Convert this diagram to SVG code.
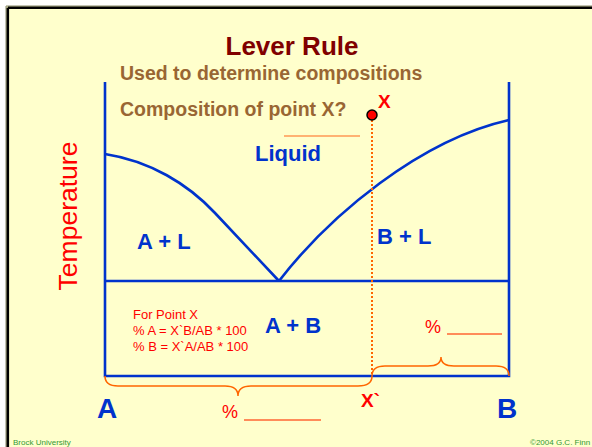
<svg xmlns="http://www.w3.org/2000/svg" width="592" height="447" viewBox="0 0 592 447">
<style>
  text { font-family: "Liberation Sans", Arial, sans-serif; }
  .blue { fill: #0033CC; font-weight: bold; }
  .brown { fill: #996633; font-weight: bold; font-size: 19.5px; }
  .red { fill: #FF0000; }
  .green { fill: #339933; font-size: 8px; }
  .line { stroke: #0033CC; stroke-width: 2.6; fill: none; }
  .brace { stroke: #FF6600; stroke-width: 1.5; fill: none; }
  .under { stroke: #FF6633; stroke-width: 1.5; }
</style>
<rect x="0" y="0" width="592" height="447" fill="#FFFFFF"/>
<rect x="6" y="6" width="600" height="460" fill="#FFFFCC"/>
<path d="M6,6 H592 M6,6 V447" stroke="#888866" stroke-width="1" fill="none"/>
<path d="M7.8,7.8 H592 M7.8,7.8 V447" stroke="#000000" stroke-width="2.6" fill="none"/>

<g id="title">
  <text x="292" y="55" text-anchor="middle" font-size="26" font-weight="bold" fill="#800000">Lever Rule</text>
  <text x="120" y="80" class="brown">Used to determine compositions</text>
  <text x="120" y="116" class="brown">Composition of point X?</text>
</g>

<g id="connectors">
  <path id="axes" class="line" d="M105,82 V376 H509 V82"/>
  <path id="eutectic" class="line" d="M105,281 H509"/>
  <path id="liquidus-left" class="line" d="M105,154 C150,161 188,184 215,213 L279,281"/>
  <path id="liquidus-right" class="line" d="M279,281 C330,215 420,140 509,120"/>
  <path id="tie" d="M372,120 V376" stroke="#FF6600" stroke-width="2" stroke-dasharray="2,2" fill="none"/>
  <path id="brace-left" class="brace" d="M105,376 Q105,386 118,386 L225,386 Q238,386 238,396 Q238,386 251,386 L358,386 Q372,386 372,376"/>
  <path id="brace-right" class="brace" d="M372,376 Q372,366 385,366 L428,366 Q441,366 441,357 Q441,366 454,366 L496,366 Q509,366 509,376"/>
  <line x1="284" y1="136" x2="360" y2="136" stroke="#FF9955" stroke-width="1.5"/>
  <line x1="244" y1="420" x2="321" y2="420" class="under"/>
  <line x1="447" y1="334" x2="502" y2="334" class="under"/>
</g>

<g id="pointX">
  <circle cx="372" cy="115" r="5" fill="#FF0000" stroke="#000000" stroke-width="1.5"/>
  <text x="378" y="108" class="red" font-size="19" font-weight="bold">X</text>
</g>

<g id="labels">
  <text x="255" y="161" class="blue" font-size="22">Liquid</text>
  <text x="137" y="249" class="blue" font-size="22">A + L</text>
  <text x="377" y="244" class="blue" font-size="22">B + L</text>
  <text x="265" y="333" class="blue" font-size="22">A + B</text>
  <text x="97" y="418" class="blue" font-size="28">A</text>
  <text x="497" y="418" class="blue" font-size="28">B</text>
  <text x="361" y="407" class="red" font-size="19" font-weight="bold">X`</text>
  <text x="222" y="418" class="red" font-size="18">%</text>
  <text x="425" y="333" class="red" font-size="18">%</text>
  <text transform="translate(77,216) rotate(-90)" text-anchor="middle" class="red" font-size="26.5">Temperature</text>
</g>

<g id="formula" class="red" font-size="13">
  <text x="133" y="319" class="red">For Point X</text>
  <text x="133" y="335" class="red">% A = X`B/AB * 100</text>
  <text x="133" y="351" class="red">% B = X`A/AB * 100</text>
</g>

<g id="footer">
  <text x="13" y="445" class="green">Brock University</text>
  <text x="530" y="445" class="green">©2004 G.C. Finn</text>
</g>
</svg>
